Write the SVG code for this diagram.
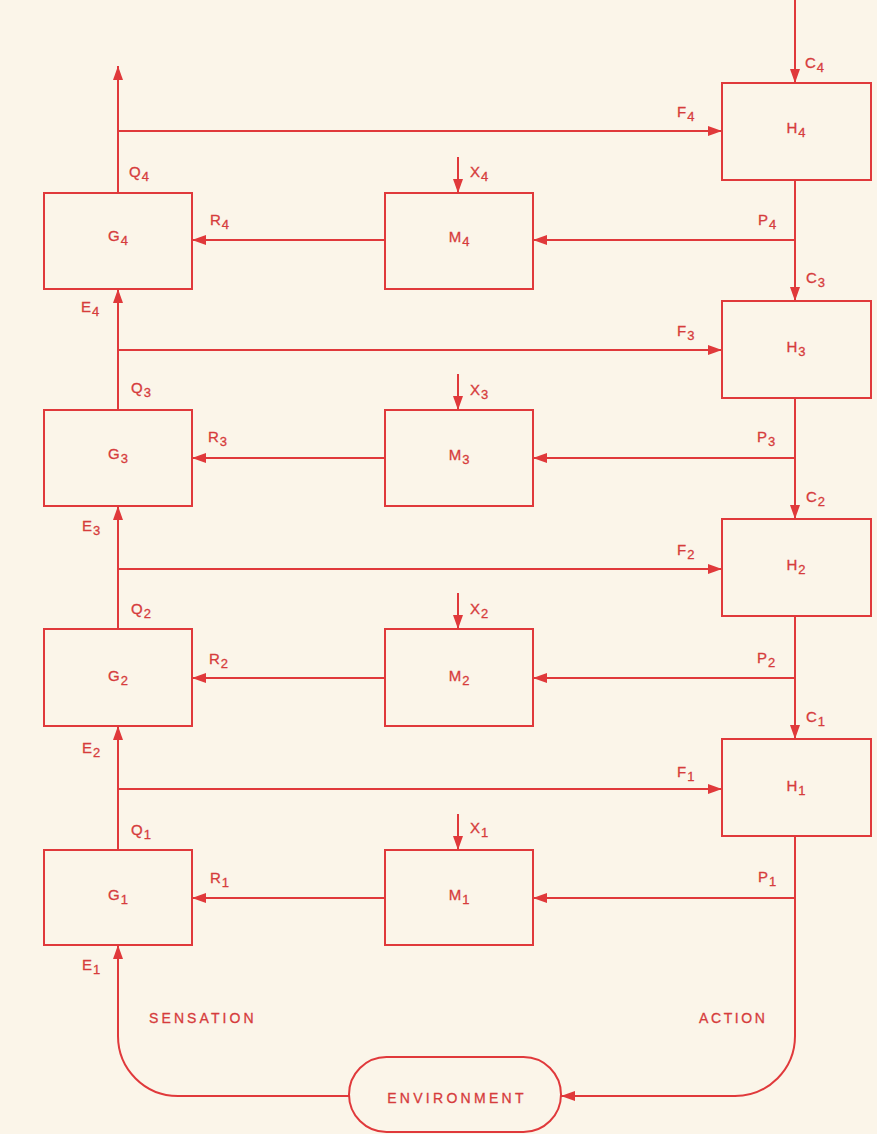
<svg xmlns="http://www.w3.org/2000/svg" width="877" height="1134" viewBox="0 0 877 1134">
<style>
.box{fill:none;stroke:#e0393b;stroke-width:2}
.ln{fill:none;stroke:#e0393b;stroke-width:2}
.t{font-family:"Liberation Sans",Arial,sans-serif;font-size:15px;fill:#d63c3c;stroke:#d63c3c;stroke-width:0.3}
.s{font-size:13px}
.w{font-family:"Liberation Sans",Arial,sans-serif;font-size:14px;fill:#d63c3c;stroke:#d63c3c;stroke-width:0.3}
.m{text-anchor:middle}
</style>
<defs>
<marker id="ah" markerWidth="14" markerHeight="10" refX="14" refY="5" orient="auto" markerUnits="userSpaceOnUse">
<path d="M0,0 L14,5 L0,10 z" fill="#e0393b"/>
</marker>
</defs>
<rect width="877" height="1134" fill="#fbf5e9"/>

<g id="connectors">
<line class="ln" x1="118" y1="193" x2="118" y2="66" marker-end="url(#ah)"/>
<line class="ln" x1="795" y1="0" x2="795" y2="83" marker-end="url(#ah)"/>
<!-- row 4 -->
<line class="ln" x1="118" y1="131" x2="722" y2="131" marker-end="url(#ah)"/>
<line class="ln" x1="458" y1="157" x2="458" y2="193" marker-end="url(#ah)"/>
<line class="ln" x1="795" y1="240" x2="533" y2="240" marker-end="url(#ah)"/>
<line class="ln" x1="385" y1="240" x2="192" y2="240" marker-end="url(#ah)"/>
<line class="ln" x1="795" y1="180" x2="795" y2="301" marker-end="url(#ah)"/>
<line class="ln" x1="118" y1="410" x2="118" y2="289" marker-end="url(#ah)"/>
<!-- row 3 -->
<line class="ln" x1="118" y1="350" x2="722" y2="350" marker-end="url(#ah)"/>
<line class="ln" x1="458" y1="374" x2="458" y2="410" marker-end="url(#ah)"/>
<line class="ln" x1="795" y1="458" x2="533" y2="458" marker-end="url(#ah)"/>
<line class="ln" x1="385" y1="458" x2="192" y2="458" marker-end="url(#ah)"/>
<line class="ln" x1="795" y1="398" x2="795" y2="519" marker-end="url(#ah)"/>
<line class="ln" x1="118" y1="629" x2="118" y2="506" marker-end="url(#ah)"/>
<!-- row 2 -->
<line class="ln" x1="118" y1="569" x2="722" y2="569" marker-end="url(#ah)"/>
<line class="ln" x1="458" y1="593" x2="458" y2="629" marker-end="url(#ah)"/>
<line class="ln" x1="795" y1="678" x2="533" y2="678" marker-end="url(#ah)"/>
<line class="ln" x1="385" y1="678" x2="192" y2="678" marker-end="url(#ah)"/>
<line class="ln" x1="795" y1="616" x2="795" y2="739" marker-end="url(#ah)"/>
<line class="ln" x1="118" y1="850" x2="118" y2="726" marker-end="url(#ah)"/>
<!-- row 1 -->
<line class="ln" x1="118" y1="789" x2="722" y2="789" marker-end="url(#ah)"/>
<line class="ln" x1="458" y1="814" x2="458" y2="850" marker-end="url(#ah)"/>
<line class="ln" x1="795" y1="898" x2="533" y2="898" marker-end="url(#ah)"/>
<line class="ln" x1="385" y1="898" x2="192" y2="898" marker-end="url(#ah)"/>
<!-- loop through environment -->
<path class="ln" d="M795,836 V1036 A60,60 0 0 1 735,1096 H561" marker-end="url(#ah)"/>
<path class="ln" d="M349,1096 H178 A60,60 0 0 1 118,1036 V945" marker-end="url(#ah)"/>
</g>

<g id="G4"><rect class="box" x="44" y="193" width="148" height="96"/><text class="t m" x="118" y="241">G<tspan class="s" dx="1" dy="4">4</tspan></text></g>
<g id="M4"><rect class="box" x="385" y="193" width="148" height="96"/><text class="t m" x="459" y="242">M<tspan class="s" dx="1" dy="4">4</tspan></text></g>
<g id="H4"><rect class="box" x="722" y="83" width="149" height="97"/><text class="t m" x="796" y="133">H<tspan class="s" dx="1" dy="4">4</tspan></text></g>

<g id="G3"><rect class="box" x="44" y="410" width="148" height="96"/><text class="t m" x="118" y="459">G<tspan class="s" dx="1" dy="4">3</tspan></text></g>
<g id="M3"><rect class="box" x="385" y="410" width="148" height="96"/><text class="t m" x="459" y="460">M<tspan class="s" dx="1" dy="4">3</tspan></text></g>
<g id="H3"><rect class="box" x="722" y="301" width="149" height="97"/><text class="t m" x="796" y="352">H<tspan class="s" dx="1" dy="4">3</tspan></text></g>

<g id="G2"><rect class="box" x="44" y="629" width="148" height="97"/><text class="t m" x="118" y="681">G<tspan class="s" dx="1" dy="4">2</tspan></text></g>
<g id="M2"><rect class="box" x="385" y="629" width="148" height="97"/><text class="t m" x="459" y="681">M<tspan class="s" dx="1" dy="4">2</tspan></text></g>
<g id="H2"><rect class="box" x="722" y="519" width="149" height="97"/><text class="t m" x="796" y="570">H<tspan class="s" dx="1" dy="4">2</tspan></text></g>

<g id="G1"><rect class="box" x="44" y="850" width="148" height="95"/><text class="t m" x="118" y="900">G<tspan class="s" dx="1" dy="4">1</tspan></text></g>
<g id="M1"><rect class="box" x="385" y="850" width="148" height="95"/><text class="t m" x="459" y="900">M<tspan class="s" dx="1" dy="4">1</tspan></text></g>
<g id="H1"><rect class="box" x="722" y="739" width="149" height="97"/><text class="t m" x="796" y="791">H<tspan class="s" dx="1" dy="4">1</tspan></text></g>

<g id="environment"><rect class="box" x="349" y="1057" width="212" height="75" rx="37.5"/><text class="w m" x="457" y="1103" letter-spacing="3.3">ENVIRONMENT</text></g>

<g id="labels">
<text class="t" x="805" y="68">C<tspan class="s" dx="1" dy="4">4</tspan></text>
<text class="t" x="677" y="117">F<tspan class="s" dx="1" dy="4">4</tspan></text>
<text class="t" x="129" y="177">Q<tspan class="s" dx="1" dy="4">4</tspan></text>
<text class="t" x="470" y="177">X<tspan class="s" dx="1" dy="4">4</tspan></text>
<text class="t" x="210" y="225">R<tspan class="s" dx="1" dy="4">4</tspan></text>
<text class="t" x="758" y="225">P<tspan class="s" dx="1" dy="4">4</tspan></text>
<text class="t" x="81" y="312">E<tspan class="s" dx="1" dy="4">4</tspan></text>

<text class="t" x="806" y="283">C<tspan class="s" dx="1" dy="4">3</tspan></text>
<text class="t" x="677" y="336">F<tspan class="s" dx="1" dy="4">3</tspan></text>
<text class="t" x="131" y="393">Q<tspan class="s" dx="1" dy="4">3</tspan></text>
<text class="t" x="470" y="395">X<tspan class="s" dx="1" dy="4">3</tspan></text>
<text class="t" x="208" y="442">R<tspan class="s" dx="1" dy="4">3</tspan></text>
<text class="t" x="757" y="442">P<tspan class="s" dx="1" dy="4">3</tspan></text>
<text class="t" x="82" y="531">E<tspan class="s" dx="1" dy="4">3</tspan></text>

<text class="t" x="806" y="502">C<tspan class="s" dx="1" dy="4">2</tspan></text>
<text class="t" x="677" y="555">F<tspan class="s" dx="1" dy="4">2</tspan></text>
<text class="t" x="131" y="614">Q<tspan class="s" dx="1" dy="4">2</tspan></text>
<text class="t" x="470" y="614">X<tspan class="s" dx="1" dy="4">2</tspan></text>
<text class="t" x="209" y="664">R<tspan class="s" dx="1" dy="4">2</tspan></text>
<text class="t" x="757" y="663">P<tspan class="s" dx="1" dy="4">2</tspan></text>
<text class="t" x="82" y="753">E<tspan class="s" dx="1" dy="4">2</tspan></text>

<text class="t" x="806" y="722">C<tspan class="s" dx="1" dy="4">1</tspan></text>
<text class="t" x="677" y="777">F<tspan class="s" dx="1" dy="4">1</tspan></text>
<text class="t" x="131" y="835">Q<tspan class="s" dx="1" dy="4">1</tspan></text>
<text class="t" x="470" y="833">X<tspan class="s" dx="1" dy="4">1</tspan></text>
<text class="t" x="210" y="883">R<tspan class="s" dx="1" dy="4">1</tspan></text>
<text class="t" x="758" y="882">P<tspan class="s" dx="1" dy="4">1</tspan></text>
<text class="t" x="82" y="970">E<tspan class="s" dx="1" dy="4">1</tspan></text>

<text class="w" x="149" y="1023" letter-spacing="3.1">SENSATION</text>
<text class="w" x="699" y="1023" letter-spacing="2.6">ACTION</text>
</g>
</svg>
